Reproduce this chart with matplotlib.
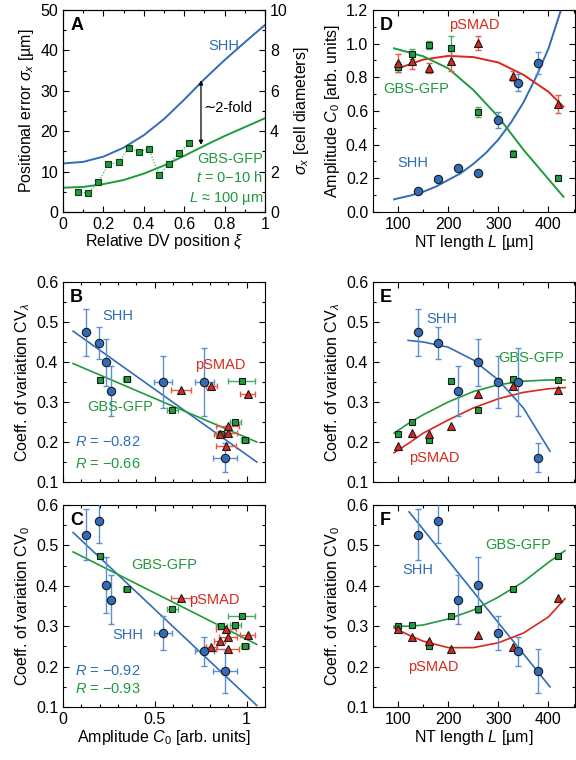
import matplotlib
matplotlib.use("Agg")
import matplotlib.pyplot as plt
from matplotlib.ticker import MultipleLocator, FuncFormatter

plt.rcParams.update({
    "font.family": ["Liberation Sans", "DejaVu Sans"],
    "font.size": 11.5,
    "mathtext.fontset": "custom",
    "mathtext.rm": "Liberation Sans",
    "mathtext.it": "Liberation Sans:italic",
    "mathtext.bf": "Liberation Sans:bold",
    "xtick.direction": "in", "ytick.direction": "in",
    "xtick.top": True, "ytick.right": True,
    "xtick.major.size": 4, "ytick.major.size": 4,
    "xtick.minor.size": 2, "ytick.minor.size": 2,
    "xtick.major.width": 0.8, "ytick.major.width": 0.8,
    "xtick.minor.width": 0.8, "ytick.minor.width": 0.8,
    "axes.linewidth": 0.8,
})

BLUE, GREEN, RED = "#2f6db8", "#1f9a3c", "#d8281d"
BLUE_E, GREEN_E, RED_E = "#5a8fd2", "#46b061", "#e45a4f"

# ---------------- data ----------------
# panel A: positional error along DV axis
xi_fit = [0.0, 0.1, 0.2, 0.3, 0.4, 0.5, 0.6, 0.7, 0.8, 0.9, 1.0]
sig_shh_fit = [12.0, 12.4, 13.7, 15.9, 19.0, 23.0, 27.8, 32.9, 37.6, 42.0, 46.3]
sig_gbs_fit = [6.0, 6.2, 6.9, 7.9, 9.5, 11.5, 13.9, 16.4, 18.8, 21.0, 23.2]
xi_gbs = [0.075, 0.125, 0.175, 0.225, 0.275, 0.325, 0.375, 0.425, 0.475, 0.525, 0.575, 0.625]
sig_gbs = [4.9, 4.7, 7.4, 11.8, 12.3, 15.9, 14.9, 15.6, 9.2, 11.8, 14.6, 17.1]

# SHH
L_shh = [140, 180, 220, 260, 300, 340, 380]
amp_shh = [0.123, 0.198, 0.264, 0.234, 0.546, 0.768, 0.883]
amp_shh_err = [0.01, 0.01, 0.012, 0.01, 0.048, 0.052, 0.066]
cvl_shh = [0.474, 0.448, 0.328, 0.399, 0.351, 0.351, 0.161]
cvl_shh_err = [0.059, 0.04, 0.062, 0.059, 0.065, 0.085, 0.036]
cv0_shh = [0.527, 0.560, 0.366, 0.402, 0.283, 0.238, 0.189]
cv0_shh_err = [0.062, 0.055, 0.061, 0.070, 0.043, 0.036, 0.055]

# pSMAD
L_smad = [100, 127, 162, 205, 260, 330, 420]
amp_smad = [0.887, 0.897, 0.853, 0.897, 1.005, 0.807, 0.641]
amp_smad_err = [0.053, 0.05, 0.03, 0.062, 0.04, 0.03, 0.055]
cvl_smad = [0.189, 0.2225, 0.219, 0.240, 0.319, 0.339, 0.329]
cv0_smad = [0.294, 0.274, 0.264, 0.243, 0.278, 0.249, 0.369]

# GBS-GFP
L_gbs = [100, 127, 162, 205, 260, 330, 420]
amp_gbs = [0.863, 0.937, 0.992, 0.972, 0.595, 0.347, 0.204]
amp_gbs_err = [0.03, 0.03, 0.023, 0.075, 0.03, 0.02, 0.015]
cvl_gbs = [0.219, 0.250, 0.204, 0.352, 0.281, 0.358, 0.356]
cv0_gbs = [0.300, 0.3025, 0.251, 0.326, 0.342, 0.392, 0.474]

# fitted curves
L_fit_d_shh = [92, 125, 150, 175, 200, 225, 250, 275, 300, 325, 350, 375, 400, 425]
C0_fit_shh = [0.075, 0.098, 0.12, 0.15, 0.19, 0.23, 0.285, 0.35, 0.43, 0.53, 0.65, 0.80, 0.97, 1.2]
L_fit_d_smad = [100, 150, 200, 250, 300, 350, 400, 430]
C0_fit_smad = [0.853, 0.905, 0.927, 0.92, 0.888, 0.815, 0.714, 0.625]
L_fit_d_gbs = [92, 150, 200, 250, 300, 350, 400, 430]
C0_fit_gbs = [0.972, 0.925, 0.853, 0.725, 0.565, 0.37, 0.195, 0.09]

amp_line = [0.055, 1.055]
cvl_line_shh = [0.477, 0.150]
cvl_line_gbs = [0.396, 0.200]
cv0_line_shh = [0.532, 0.104]
cv0_line_gbs = [0.484, 0.255]

L_fit_e_shh = [120, 150, 200, 250, 300, 350, 403]
cvl_fit_shh = [0.454, 0.450, 0.437, 0.405, 0.355, 0.285, 0.177]
L_fit_e = [92, 125, 150, 200, 250, 300, 350, 400, 433]
cvl_fit_gbs = [0.222, 0.250, 0.268, 0.300, 0.326, 0.343, 0.352, 0.355, 0.355]
cvl_fit_smad = [0.173, 0.200, 0.222, 0.255, 0.285, 0.308, 0.324, 0.333, 0.336]

L_line_f_shh = [122, 403]
cv0_line_f_shh = [0.583, 0.150]
L_fit_f = [92, 125, 150, 200, 250, 300, 350, 400, 433]
cv0_fit_gbs = [0.300, 0.300, 0.303, 0.318, 0.340, 0.372, 0.410, 0.458, 0.487]
cv0_fit_smad = [0.296, 0.276, 0.263, 0.247, 0.247, 0.259, 0.283, 0.323, 0.368]


def style(ax, xmaj, xmin, ymaj, ymin):
    ax.xaxis.set_major_locator(MultipleLocator(xmaj))
    ax.xaxis.set_minor_locator(MultipleLocator(xmin))
    ax.yaxis.set_major_locator(MultipleLocator(ymaj))
    ax.yaxis.set_minor_locator(MultipleLocator(ymin))
    ax.tick_params(which="both", top=True, right=True)


def points(ax, x, y, marker, fc, ecol, ms, xerr=None, yerr=None):
    if xerr is not None or yerr is not None:
        ax.errorbar(x, y, xerr=xerr, yerr=yerr, fmt="none", ecolor=ecol,
                    elinewidth=1.0, capsize=2.5, capthick=1.0, zorder=3)
    ax.plot(x, y, marker, ls="none", mfc=fc, mec="#1b1b1b", mew=0.8,
            ms=ms, zorder=4)


def letter(ax, s):
    ax.text(0.035, 0.965, s, transform=ax.transAxes, fontweight="bold",
            fontsize=13, va="top", ha="left")


gfmt = FuncFormatter(lambda v, p: f"{v:g}")
LBL = 10.5

fig = plt.figure(figsize=(5.76, 7.6), dpi=100)
W = 0.3507
axA = fig.add_axes([0.1094, 0.7211, W, 0.2658])
axB = fig.add_axes([0.1094, 0.3658, W, 0.2632])
axC = fig.add_axes([0.1094, 0.0697, W, 0.2658])
axD = fig.add_axes([0.6476, 0.7211, W, 0.2658])
axE = fig.add_axes([0.6476, 0.3658, W, 0.2632])
axF = fig.add_axes([0.6476, 0.0697, W, 0.2658])

# ---------- A ----------
ax = axA
ax.plot(xi_fit, sig_shh_fit, color=BLUE, lw=1.4)
ax.plot(xi_fit, sig_gbs_fit, color=GREEN, lw=1.4)
ax.plot(xi_gbs, sig_gbs, ":", color=GREEN, lw=0.8, zorder=3)
ax.plot(xi_gbs, sig_gbs, "s", ls="none", mfc=GREEN, mec="#0d3d17", mew=0.8, ms=4.2, zorder=4)
ax.annotate("", xy=(0.683, 32.6), xytext=(0.683, 16.6),
            arrowprops=dict(arrowstyle="<|-|>", color="black", lw=0.9,
                            mutation_scale=6, shrinkA=0, shrinkB=0))
ax.text(0.695, 25.8, "∼2-fold", fontsize=LBL, va="center")
ax.text(0.72, 40.2, "SHH", color=BLUE, fontsize=LBL)
ax.text(0.99, 12.0, "GBS-GFP", color=GREEN, fontsize=LBL, ha="right")
ax.text(0.99, 7.3, "$t$ = 0\u221210 h", color=GREEN, fontsize=LBL, ha="right")
ax.text(0.99, 2.5, "$L$ \u2248 100 µm", color=GREEN, fontsize=LBL, ha="right")
ax.set_xlim(0, 1)
ax.set_ylim(0, 50)
style(ax, 0.2, 0.1, 10, 5)
ax.tick_params(which="both", right=False)
ax.xaxis.set_major_formatter(gfmt)
ax.set_xlabel(r"Relative DV position $\xi$", labelpad=1)
ax.set_ylabel(r"Positional error $\sigma_x$ [µm]", labelpad=3)
letter(ax, "A")
axA2 = ax.twinx()
axA2.set_ylim(0, 10)
axA2.yaxis.set_major_locator(MultipleLocator(2))
axA2.yaxis.set_minor_locator(MultipleLocator(1))
axA2.tick_params(which="both", direction="in")
axA2.set_ylabel(r"$\sigma_x$ [cell diameters]", labelpad=3)

# ---------- D ----------
ax = axD
ax.plot(L_fit_d_shh, C0_fit_shh, color=BLUE, lw=1.4)
ax.plot(L_fit_d_smad, C0_fit_smad, color=RED, lw=1.4)
ax.plot(L_fit_d_gbs, C0_fit_gbs, color=GREEN, lw=1.4)
points(ax, L_gbs, amp_gbs, "s", GREEN, GREEN_E, 5.0, yerr=amp_gbs_err)
points(ax, L_smad, amp_smad, "^", RED, RED_E, 5.6, yerr=amp_smad_err)
points(ax, L_shh, amp_shh, "o", BLUE, BLUE_E, 6.0, yerr=amp_shh_err)
ax.text(253, 1.11, "pSMAD", color=RED, fontsize=LBL, ha="center", va="center")
ax.text(137, 0.73, "GBS-GFP", color=GREEN, fontsize=LBL, ha="center", va="center")
ax.text(130, 0.29, "SHH", color=BLUE, fontsize=LBL, ha="center", va="center")
ax.set_xlim(50, 453)
ax.set_ylim(0, 1.2)
style(ax, 100, 50, 0.2, 0.1)
ax.set_xlabel(r"NT length $L$ [µm]", labelpad=1)
ax.set_ylabel(r"Amplitude $C_0$ [arb. units]", labelpad=3)
letter(ax, "D")

# ---------- B ----------
ax = axB
ax.plot(amp_line, cvl_line_shh, color=BLUE, lw=1.2)
ax.plot(amp_line, cvl_line_gbs, color=GREEN, lw=1.2)
points(ax, amp_gbs, cvl_gbs, "s", GREEN, GREEN_E, 5.0, xerr=amp_gbs_err)
points(ax, amp_smad, cvl_smad, "^", RED, RED_E, 5.6, xerr=amp_smad_err)
points(ax, amp_shh, cvl_shh, "o", BLUE, BLUE_E, 6.0, xerr=amp_shh_err, yerr=cvl_shh_err)
ax.text(0.30, 0.515, "SHH", color=BLUE, fontsize=LBL, ha="center", va="center")
ax.text(0.855, 0.393, "pSMAD", color=RED, fontsize=LBL, ha="center", va="center")
ax.text(0.31, 0.288, "GBS-GFP", color=GREEN, fontsize=LBL, ha="center", va="center")
ax.text(0.065, 0.2, "$R$ = \u22120.82", color=BLUE, fontsize=LBL, va="center")
ax.text(0.065, 0.146, "$R$ = \u22120.66", color=GREEN, fontsize=LBL, va="center")
ax.set_xlim(0, 1.1)
ax.set_ylim(0.1, 0.6)
style(ax, 0.5, 0.1, 0.1, 0.05)
ax.tick_params(labelbottom=False)
ax.set_ylabel(r"Coeff. of variation CV$_\lambda$", labelpad=3)
letter(ax, "B")

# ---------- E ----------
ax = axE
ax.plot(L_fit_e_shh, cvl_fit_shh, color=BLUE, lw=1.2)
ax.plot(L_fit_e, cvl_fit_gbs, color=GREEN, lw=1.2)
ax.plot(L_fit_e, cvl_fit_smad, color=RED, lw=1.2)
points(ax, L_gbs, cvl_gbs, "s", GREEN, GREEN_E, 5.0)
points(ax, L_smad, cvl_smad, "^", RED, RED_E, 5.6)
points(ax, L_shh, cvl_shh, "o", BLUE, BLUE_E, 6.0, yerr=cvl_shh_err)
ax.text(188, 0.508, "SHH", color=BLUE, fontsize=LBL, ha="center", va="center")
ax.text(366, 0.41, "GBS-GFP", color=GREEN, fontsize=LBL, ha="center", va="center")
ax.text(172, 0.16, "pSMAD", color=RED, fontsize=LBL, ha="center", va="center")
ax.set_xlim(50, 453)
ax.set_ylim(0.1, 0.6)
style(ax, 100, 50, 0.1, 0.05)
ax.tick_params(labelbottom=False)
ax.set_ylabel(r"Coeff. of variation CV$_\lambda$", labelpad=3)
letter(ax, "E")

# ---------- C ----------
ax = axC
ax.plot(amp_line, cv0_line_shh, color=BLUE, lw=1.2)
ax.plot(amp_line, cv0_line_gbs, color=GREEN, lw=1.2)
points(ax, amp_gbs, cv0_gbs, "s", GREEN, GREEN_E, 5.0, xerr=amp_gbs_err)
points(ax, amp_smad, cv0_smad, "^", RED, RED_E, 5.6, xerr=amp_smad_err)
points(ax, amp_shh, cv0_shh, "o", BLUE, BLUE_E, 6.0, xerr=amp_shh_err, yerr=cv0_shh_err)
ax.text(0.55, 0.451, "GBS-GFP", color=GREEN, fontsize=LBL, ha="center", va="center")
ax.text(0.822, 0.366, "pSMAD", color=RED, fontsize=LBL, ha="center", va="center")
ax.text(0.355, 0.278, "SHH", color=BLUE, fontsize=LBL, ha="center", va="center")
ax.text(0.065, 0.19, "$R$ = \u22120.92", color=BLUE, fontsize=LBL, va="center")
ax.text(0.065, 0.145, "$R$ = \u22120.93", color=GREEN, fontsize=LBL, va="center")
ax.set_xlim(0, 1.1)
ax.set_ylim(0.1, 0.6)
style(ax, 0.5, 0.1, 0.1, 0.05)
ax.xaxis.set_major_formatter(gfmt)
ax.set_xlabel(r"Amplitude $C_0$ [arb. units]", labelpad=1)
ax.set_ylabel(r"Coeff. of variation CV$_0$", labelpad=3)
letter(ax, "C")

# ---------- F ----------
ax = axF
ax.plot(L_line_f_shh, cv0_line_f_shh, color=BLUE, lw=1.2)
ax.plot(L_fit_f, cv0_fit_gbs, color=GREEN, lw=1.2)
ax.plot(L_fit_f, cv0_fit_smad, color=RED, lw=1.2)
points(ax, L_gbs, cv0_gbs, "s", GREEN, GREEN_E, 5.0)
points(ax, L_smad, cv0_smad, "^", RED, RED_E, 5.6)
points(ax, L_shh, cv0_shh, "o", BLUE, BLUE_E, 6.0, yerr=cv0_shh_err)
ax.text(340, 0.501, "GBS-GFP", color=GREEN, fontsize=LBL, ha="center", va="center")
ax.text(139, 0.44, "SHH", color=BLUE, fontsize=LBL, ha="center", va="center")
ax.text(171, 0.20, "pSMAD", color=RED, fontsize=LBL, ha="center", va="center")
ax.set_xlim(50, 453)
ax.set_ylim(0.1, 0.6)
style(ax, 100, 50, 0.1, 0.05)
ax.set_xlabel(r"NT length $L$ [µm]", labelpad=1)
ax.set_ylabel(r"Coeff. of variation CV$_0$", labelpad=3)
letter(ax, "F")

fig.savefig("out.png", dpi=100)
